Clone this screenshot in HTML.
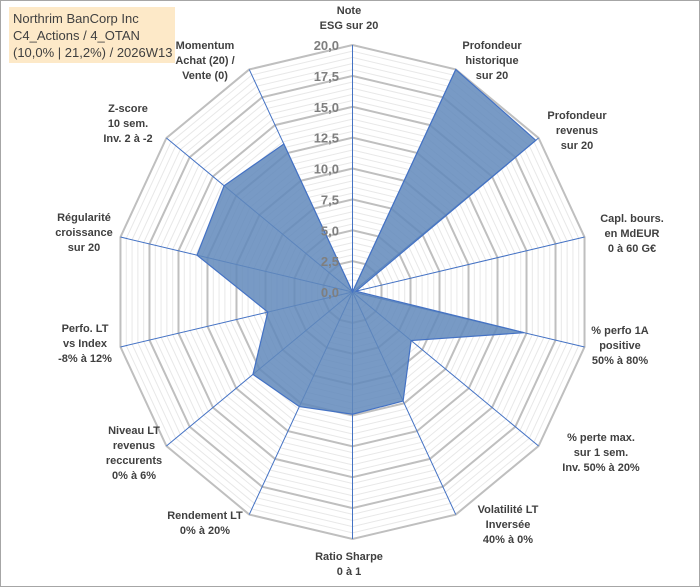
<!DOCTYPE html>
<html><head><meta charset="utf-8"><style>
body{margin:0;background:#fff}
svg{display:block;font-family:"Liberation Sans",sans-serif}
</style></head><body>
<svg id="c" width="700" height="587" viewBox="0 0 700 587">
<rect x="0.5" y="0.5" width="699" height="586" fill="#fff" stroke="#a6a6a6"/>
<g id="grid"></g><g id="spokes"></g><g id="series"></g><g id="ticks"></g><g id="labels"></g>
<g>
<rect x="9" y="7" width="166" height="56" fill="#fde9c8"/>
<text x="13" y="23" font-size="13" fill="#404040">Northrim BanCorp Inc</text>
<text x="13" y="40" font-size="13" fill="#404040">C4_Actions / 4_OTAN</text>
<text x="13" y="57" font-size="13" fill="#404040">(10,0% | 21,2%) / 2026W13</text>
</g>
</svg>
<script>
const categories=[["Note","ESG sur 20"],["Profondeur","historique","sur 20"],["Profondeur","revenus","sur 20"],["Capl. bours.","en MdEUR","0 à 60 G€"],["% perfo 1A","positive","50% à 80%"],["% perte max.","sur 1 sem.","Inv. 50% à 20%"],["Volatilité LT","Inversée","40% à 0%"],["Ratio Sharpe","0 à 1"],["Rendement LT","0% à 20%"],["Niveau LT","revenus","reccurents","0% à 6%"],["Perfo. LT","vs Index","-8% à 12%"],["Régularité","croissance","sur 20"],["Z-score","10 sem.","Inv. 2 à -2"],["Momentum","Achat (20) /","Vente (0)"]];
const values=[0,20,19.7,0.3,14.8,6.3,9.8,9.9,10.3,10.7,7.3,13.4,13.8,13.3];
const tickLabels=["0,0","2,5","5,0","7,5","10,0","12,5","15,0","17,5","20,0"];
const labelPos=[[349,10],[492,45],[577,115],[632,218],[620,330],[601,437],[508,509],[349,556],[205,515],[134,430],[85,328],[84,217],[128,108],[205,45]];
const NS="http://www.w3.org/2000/svg";
const cx=352.5,cy=292,Rx=238,Ry=247,maxV=20,N=categories.length;
function pt(i,v){const a=2*Math.PI*i/N;const f=v/maxV;return [cx+f*Rx*Math.sin(a),cy-f*Ry*Math.cos(a)];}
function el(t,at,p){const e=document.createElementNS(NS,t);for(const k in at)e.setAttribute(k,at[k]);p.appendChild(e);return e;}
const grid=document.getElementById('grid');
for(let s=0.5;s<=maxV+0.01;s+=0.5){const major=Math.abs(s/2.5-Math.round(s/2.5))<1e-6;
 const pts=[];for(let i=0;i<N;i++)pts.push(pt(i,s).join(','));
 const g=el('polygon',{points:pts.join(' '),fill:'none',stroke:major?'#bfbfbf':'#e8e8e8','stroke-width':major?2:1},grid);
 
 }
const sp=document.getElementById('spokes');
for(let i=0;i<N;i++){const p=pt(i,maxV);const l=el('line',{x1:cx,y1:cy,x2:p[0],y2:p[1],stroke:'#4472c4','stroke-width':1},sp);
 
 }
const ser=document.getElementById('series');
const sp2=values.map((v,i)=>pt(i,v).join(','));
const poly=el('polygon',{points:sp2.join(' '),fill:'#6088bb','fill-opacity':0.85,stroke:'#4472c4','stroke-width':1.2},ser);


const tk=document.getElementById('ticks');
tickLabels.forEach((t,j)=>{const y=cy-(j*2.5)/maxV*Ry;const tx=el('text',{x:339,y:y+5,'text-anchor':'end','font-size':13,'font-weight':'bold',fill:'#7f7f7f'},tk);tx.textContent=t;
 
 });
const lb=document.getElementById('labels');
categories.forEach((c,i)=>{const [x,y]=labelPos[i];const tx=el('text',{'text-anchor':'middle','font-size':11,'font-weight':'bold',fill:'#404040'},lb);
 
 
 c.forEach((line,k)=>{const ts=el('tspan',{x:x,y:y+4+k*15},tx);ts.textContent=line;});});
</script>
</body></html>
